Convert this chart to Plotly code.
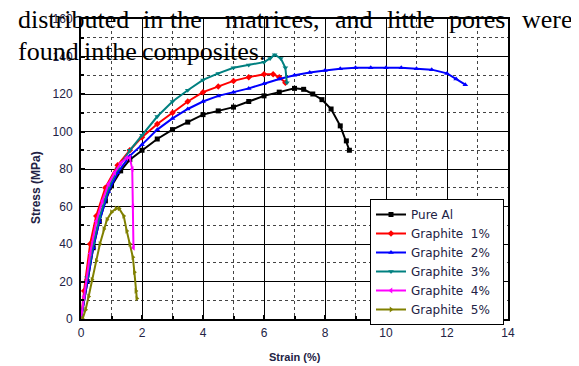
import plotly.graph_objects as go

# ---------------- data ----------------
pure_x = [0, 0.2, 0.4, 0.6, 0.8, 1.0, 1.3, 1.6, 2.0, 2.5, 3.0, 3.5, 4.0, 4.5, 5.0, 5.5, 6.0, 6.5, 7.0, 7.3, 7.6, 7.9, 8.2, 8.5, 8.7, 8.8]
pure_y = [0, 20, 38, 52, 63, 71, 79, 85, 90, 96, 101, 105, 109, 111, 113, 116, 119, 121, 123, 122.5, 120, 117, 112, 103, 95, 90]

g1_x = [0, 0.1, 0.3, 0.5, 0.8, 1.2, 1.6, 2.0, 2.5, 3.0, 3.5, 4.0, 4.5, 5.0, 5.5, 6.0, 6.3, 6.5, 6.7]
g1_y = [0, 15, 40, 55, 70, 82, 90, 97, 104, 110, 116, 121, 124, 127, 129, 130.5, 130.5, 129, 126]

g2_x = [0, 0.2, 0.4, 0.6, 0.9, 1.2, 1.6, 2.0, 2.5, 3.0, 3.5, 4.0, 4.5, 5.0, 5.5, 6.0, 6.5, 7.0, 7.5, 8.0, 8.5, 9.0, 9.5, 10.0, 10.5, 11.0, 11.5, 12.0, 12.3, 12.6]
g2_y = [0, 20, 38, 52, 68, 78, 87, 93, 101, 107, 112, 116, 119, 121, 123, 125.5, 128, 130, 131.5, 132.5, 133.5, 134, 134, 134, 134, 133.5, 133, 131, 128, 125]

g3_x = [0, 0.2, 0.4, 0.6, 0.9, 1.2, 1.6, 2.0, 2.5, 3.0, 3.5, 4.0, 4.5, 5.0, 5.5, 6.0, 6.2, 6.35, 6.55, 6.7, 6.75]
g3_y = [0, 22, 40, 54, 70, 80, 90, 98, 108, 116, 122, 127.5, 131, 134, 135.5, 137, 139, 141, 139, 134, 126]

g4_x = [0, 0.1, 0.3, 0.5, 0.7, 0.9, 1.1, 1.3, 1.5, 1.6, 1.68, 1.7, 1.72]
g4_y = [0, 12, 35, 52, 63, 72, 78, 83, 86, 86, 80, 60, 38]

g5_x = [0.05, 0.15, 0.25, 0.36, 0.5, 0.62, 0.75, 0.85, 1.0, 1.15, 1.25, 1.4, 1.5, 1.6, 1.7, 1.75, 1.8, 1.83]
g5_y = [0, 5, 12, 21, 31, 40, 48, 53, 57, 59, 59, 55, 47, 40, 33, 25, 15, 11]

series_names = ["Pure Al", "Graphite  1%", "Graphite  2%", "Graphite  3%", "Graphite  4%", "Graphite  5%"]
series_x = [pure_x, g1_x, g2_x, g3_x, g4_x, g5_x]
series_y = [pure_y, g1_y, g2_y, g3_y, g4_y, g5_y]
colors = ["#000000", "#ff0000", "#0000ff", "#008080", "#ff00ff", "#808000"]
symbols = ["square", "diamond", "triangle-up", "triangle-down", "triangle-left", "triangle-right"]

x_ticks = [0, 2, 4, 6, 8, 10, 12, 14]
y_ticks = [0, 20, 40, 60, 80, 100, 120, 140, 160]

line1_words = ["distributed", "in", "the", "matrices,", "and", "little", "pores", "were"]
line1_pos = [16, 141, 168, 223, 333, 385, 447, 520]
line2_words = ["found", "in", "the", "composites."]
line2_pos = [16, 82, 103, 140]

# ---------------- layout geometry ----------------
W, H = 579, 366
OFF = 8  # page body margin of the browser
L, R, T, B = 81 - OFF, 508 - OFF, 19 - OFF, 319 - OFF


def pxx(p):
    return (p - OFF - L) / (R - L)


def pxy(p):
    return (B - (p - OFF)) / (B - T)


fig = go.Figure()
for name, xs, ys, c, s in zip(series_names, series_x, series_y, colors, symbols):
    fig.add_trace(go.Scatter(
        x=xs, y=ys, name=name.replace("  ", "\u00a0\u00a0") + "\u00a0\u00a0",
        mode="lines+markers",
        line=dict(color=c, width=2),
        marker=dict(symbol=s, size=5, color=c),
    ))

axis_common = dict(
    showline=True, linecolor="black", linewidth=2, mirror=True,
    showgrid=True, gridcolor="black", gridwidth=1,
    ticks="inside", ticklen=4, tickcolor="black", tickwidth=2,
    zeroline=False,
    tickfont=dict(family="Arial, Liberation Sans", size=12, color="#222244"),
)

fig.update_xaxes(
    range=[0, 14], tickvals=x_ticks, ticktext=[str(v) for v in x_ticks],
    ticklabelstandoff=2,
    minor=dict(dtick=1, showgrid=True, gridcolor="#444444", griddash="dot", gridwidth=1,
               ticks="inside", ticklen=3, tickcolor="black"),
    **axis_common,
)
fig.update_yaxes(
    range=[0, 160], tickvals=y_ticks, ticktext=[str(v) for v in y_ticks],
    ticklabelstandoff=4,
    minor=dict(dtick=10, showgrid=True, gridcolor="#444444", griddash="dot", gridwidth=1,
               ticks="inside", ticklen=3, tickcolor="black"),
    **axis_common,
)

annotations = []
annotations.append(dict(
    text="<b>Strain (%)</b>", x=pxx(295), y=pxy(357), xref="paper", yref="paper",
    showarrow=False, xanchor="center", yanchor="middle",
    font=dict(family="Arial, Liberation Sans", size=11, color="#222244"),
))
annotations.append(dict(
    text="<b>Stress (MPa)</b>", x=pxx(36), y=pxy(188), xref="paper", yref="paper",
    showarrow=False, xanchor="center", yanchor="middle", textangle=-90,
    font=dict(family="Arial, Liberation Sans", size=12, color="#222244"),
))
for words, poss, yc in ((line1_words, line1_pos, 19), (line2_words, line2_pos, 51)):
    for w, p in zip(words, poss):
        annotations.append(dict(
            text=w, x=pxx(p), y=pxy(yc), xref="paper", yref="paper",
            showarrow=False, xanchor="left", yanchor="middle",
            font=dict(family="Liberation Serif, Times New Roman, serif", size=26, color="black"),
        ))

fig.update_layout(
    width=W, height=H,
    margin=dict(l=L, r=W - R, t=T, b=H - B, pad=0, autoexpand=False),
    paper_bgcolor="white", plot_bgcolor="white",
    showlegend=True,
    legend=dict(
        x=pxx(370), y=pxy(199), xanchor="left", yanchor="top",
        bgcolor="white", bordercolor="black", borderwidth=1,
        font=dict(family="DejaVu Sans, Arial", size=12, color="#222244"),
        tracegroupgap=0, itemwidth=30,
    ),
    annotations=annotations,
)

fig.write_html("out.html")
